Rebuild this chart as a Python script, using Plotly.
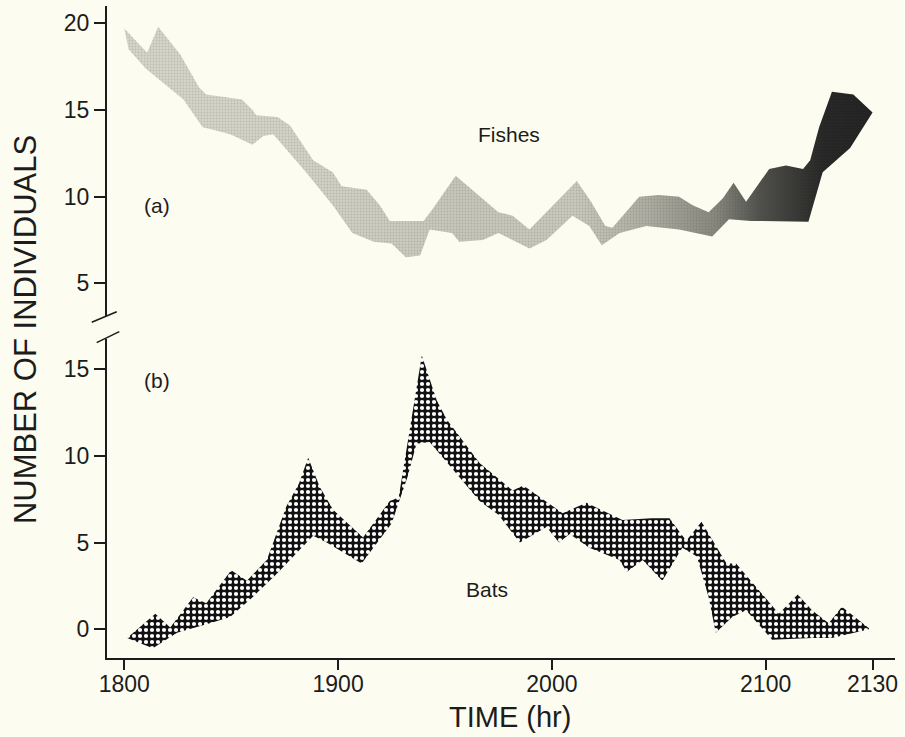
import plotly.graph_objects as go

# ---------------- data (time = minutes after 1800 h) ----------------
tick_minutes = [0, 60, 120, 180, 210]
tick_labels = ["1800", "1900", "2000", "2100", "2130"]

fish_upper_t = [0, 6.4, 9.5, 15.7, 21, 23, 26, 33, 36, 37, 43, 46.5, 53, 58.5, 61, 68, 71.7,
                74.5, 84, 86.6, 93, 100.6, 105, 109, 113.7, 127, 131, 135, 137, 144.5, 150,
                155.7, 159.5, 164, 168, 171, 174.5, 181, 185.7, 190.5, 192.5, 195, 198.6,
                204.6, 210]
fish_upper_n = [19.7, 18.3, 19.8, 18.2, 16.3, 15.9, 15.8, 15.6, 15.0, 14.7, 14.6, 14.1, 12.1,
                11.4, 10.6, 10.4, 9.5, 8.6, 8.6, 9.3, 11.2, 9.9, 9.1, 8.9, 8.1, 10.9, 9.7,
                8.3, 8.2, 10.0, 10.1, 10.0, 9.5, 9.1, 9.9, 10.8, 9.7, 11.6, 11.8, 11.6, 12.1,
                14.0, 16.05, 15.9, 14.85]
fish_lower_t = [0, 1.2, 6, 16.6, 22, 26, 29.7, 36, 39, 41.8, 51, 58.5, 64, 70, 75, 79, 83,
                85.7, 92, 94, 100.6, 105, 113.7, 118.5, 125.8, 130.5, 134, 139, 146.5, 155.7,
                165, 169.7, 176, 192, 196, 200, 203.7, 210]
fish_lower_n = [19.7, 18.5, 17.4, 15.6, 14.0, 13.8, 13.6, 13.0, 13.5, 13.6, 11.4, 9.5, 7.9,
                7.4, 7.3, 6.5, 6.6, 8.1, 7.9, 7.4, 7.5, 7.9, 7.0, 7.5, 8.9, 8.3, 7.2, 7.9, 8.3,
                8.1, 7.7, 8.7, 8.6, 8.55, 11.4, 12.1, 12.8, 14.85]

bat_upper_t = [0.8, 8.7, 12.9, 19.3, 23, 30, 34.4, 40, 45.5, 49, 51.6, 54.9, 58.6, 67, 74.5,
               77, 83.5, 87.7, 90.5, 99.7, 109, 112, 123, 129.7, 139.8, 148, 153, 157.7, 162,
               169, 171.7, 183.7, 189, 193, 197.7, 201.4, 209]
bat_upper_n = [-0.5, 0.9, 0.1, 1.85, 1.5, 3.4, 2.8, 4.0, 7.1, 8.4, 9.9, 8.2, 6.9, 5.3, 7.4,
               7.6, 15.8, 13.2, 12.1, 9.6, 8.0, 8.3, 6.7, 7.3, 6.3, 6.4, 6.4, 5.1, 6.2, 3.8,
               3.8, 0.9, 2.0, 1.1, 0.35, 1.3, 0.05]
bat_lower_t = [0.8, 8, 14.8, 24, 29.7, 36, 42.8, 53, 56.8, 66.6, 75, 79.5, 82, 85.7, 99.7,
               105, 111, 118.5, 122, 125, 130.5, 139, 141, 145.5, 151, 156.6, 160.7, 164, 166,
               170.6, 174.5, 181.8, 193, 198.6, 209]
bat_lower_n = [-0.5, -1.1, -0.2, 0.35, 0.7, 1.85, 3.2, 5.4, 5.0, 3.8, 6.1, 8.8, 10.7, 10.8,
               7.4, 6.6, 5.0, 5.9, 5.0, 5.5, 4.7, 4.0, 3.3, 4.0, 2.8, 4.7, 4.2, 1.85, -0.2,
               0.7, 1.1, -0.6, -0.5, -0.5, 0.0]

# ---------------- styling ----------------
BG = "#fcfcf0"
INK = "#1c1c1c"
FONT = "Liberation Sans, Arial, sans-serif"

fish_x = fish_upper_t + fish_lower_t[::-1]
fish_y = fish_upper_n + fish_lower_n[::-1]

fig = go.Figure()

# Fishes envelope (top panel): tonal gradient
fig.add_trace(go.Scatter(
    x=fish_x, y=fish_y, xaxis="x2", yaxis="y2",
    mode="lines", line=dict(width=0), fill="toself",
    fillcolor="#cfcfc3",
    fillgradient=dict(
        type="horizontal", start=0, stop=210,
        colorscale=[[0.0, "#d6d6ca"], [0.25, "#d2d2c6"], [0.45, "#c6c6ba"],
                    [0.6, "#c9c9bd"], [0.7, "#adada2"], [0.79, "#88887f"],
                    [0.85, "#50504c"], [0.9, "#363634"], [0.935, "#252525"],
                    [1.0, "#212121"]]),
    hoverinfo="skip", showlegend=False))
# Fishes envelope: fine stipple texture
fig.add_trace(go.Scatter(
    x=fish_x, y=fish_y, xaxis="x2", yaxis="y2",
    mode="lines", line=dict(width=0), fill="toself",
    fillcolor="rgba(0,0,0,0)",
    fillpattern=dict(shape=".", fgcolor="rgba(70,70,60,0.35)", size=3, solidity=0.3,
                     fillmode="overlay"),
    hoverinfo="skip", showlegend=False))

# Bats envelope (bottom panel)
fig.add_trace(go.Scatter(
    x=bat_upper_t + bat_lower_t[::-1],
    y=bat_upper_n + bat_lower_n[::-1],
    xaxis="x", yaxis="y",
    mode="lines", line=dict(width=0), fill="toself",
    fillcolor="#111111",
    fillpattern=dict(shape=".", bgcolor="#111111", fgcolor="#ffffff",
                     size=6, solidity=0.38, fillmode="replace"),
    hoverinfo="skip", showlegend=False))

axis_common = dict(showgrid=False, zeroline=False, ticks="outside", tickwidth=1.5,
                   tickcolor=INK, linecolor=INK, linewidth=2, automargin=False,
                   tickfont=dict(family=FONT, size=23, color=INK))

fig.update_layout(
    width=905, height=737, autosize=False,
    margin=dict(l=107, r=10, t=6, b=79),
    paper_bgcolor=BG, plot_bgcolor=BG,
    xaxis=dict(domain=[0, 1], anchor="y", range=[-4.86, 216.3],
               tickvals=tick_minutes, ticktext=tick_labels, ticklen=10, showline=True,
               ticklabelstandoff=-6, **axis_common),
    xaxis2=dict(domain=[0, 1], anchor="y2", matches="x", visible=False),
    yaxis=dict(domain=[0, 0.4893], anchor="x", range=[-1.66, 16.75],
               tickvals=[0, 5, 10, 15], ticklen=11, showline=True, **axis_common),
    yaxis2=dict(domain=[0.5245, 1], anchor="x2", range=[3.11, 21.0],
                tickvals=[5, 10, 15, 20], ticklen=11, showline=True, **axis_common),
)

# axis-break marks
for x0, y0, x1, y1 in [(-0.0194, 0.5149, 0.0123, 0.5311), (-0.0131, 0.4836, 0.0156, 0.5005)]:
    fig.add_shape(type="line", xref="paper", yref="paper", x0=x0, y0=y0, x1=x1, y1=y1,
                  line=dict(color=INK, width=1.5))

lab = dict(family=FONT, size=21, color=INK)
fig.add_annotation(x=107.9, y=13.61, xref="x2", yref="y2", text="Fishes", showarrow=False,
                   font=lab, xanchor="center", yanchor="middle")
fig.add_annotation(x=9.27, y=9.47, xref="x2", yref="y2", text="(a)", showarrow=False,
                   font=lab, xanchor="center", yanchor="middle")
fig.add_annotation(x=9.27, y=14.33, xref="x", yref="y", text="(b)", showarrow=False,
                   font=lab, xanchor="center", yanchor="middle")
fig.add_annotation(x=101.7, y=2.27, xref="x", yref="y", text="Bats", showarrow=False,
                   font=lab, xanchor="center", yanchor="middle")

# axis titles
fig.add_annotation(x=-0.104, y=0.503, xref="paper", yref="paper",
                   text="NUMBER OF INDIVIDUALS", textangle=-90, showarrow=False,
                   font=dict(family=FONT, size=31, color=INK),
                   xanchor="center", yanchor="middle")
fig.add_annotation(x=0.511, y=-0.091, xref="paper", yref="paper",
                   text="TIME (hr)", showarrow=False,
                   font=dict(family=FONT, size=29, color=INK),
                   xanchor="center", yanchor="middle")

fig.write_html(
    "out.html",
    config={"displayModeBar": False},
    post_script="document.body.style.margin='0';document.body.style.padding='0';"
                "document.body.style.overflow='hidden';"
                "document.body.style.background='" + BG + "';",
)
